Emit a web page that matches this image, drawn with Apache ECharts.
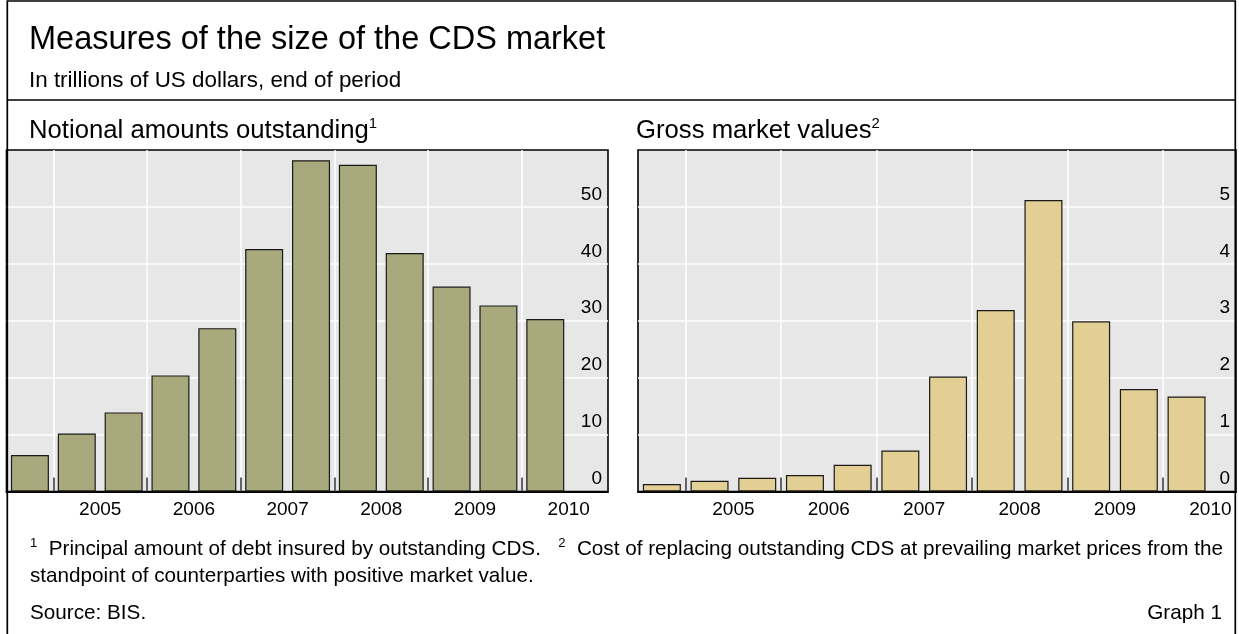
<!DOCTYPE html>
<html>
<head>
<meta charset="utf-8">
<script src="https://cdn.jsdelivr.net/npm/echarts@6/dist/echarts.min.js"></script>
<style>
html,body{margin:0;padding:0;background:#fff;}
#c{width:1239px;height:634px;}
</style>
</head>
<body>
<div id="c"></div>
<script>
// ---- data ----
const periods = ['2004H2','2005H1','2005H2','2006H1','2006H2','2007H1','2007H2','2008H1','2008H2','2009H1','2009H2','2010H1'];
const notional = [6.4, 10.2, 13.9, 20.4, 28.7, 42.6, 58.2, 57.4, 41.9, 36.0, 32.7, 30.3];
const grossValue = [0.13, 0.19, 0.24, 0.29, 0.47, 0.72, 2.02, 3.19, 5.12, 2.99, 1.80, 1.67];
const yearLabels = ['2005', '2006', '2007', '2008', '2009', '2010'];

const FONT = '"Liberation Sans", Arial, Helvetica, sans-serif';
const chart = echarts.init(document.getElementById('c'), null, {renderer: 'canvas'});

// layout (pixels)
const TOP = 150, BOTTOM_Y = 491.5;
const L = {left: 6.5, right: 608, slot: 46.85};
const R = {left: 638, right: 1236, slot: 47.7};
const spanL = (L.right - L.left) / L.slot;
const spanR = (R.right - R.left) / R.slot;

function gridsFor(p) {
  return [
    {left: p.left, top: TOP, width: p.right - p.left, height: BOTTOM_Y - TOP,
     show: true, backgroundColor: '#e7e7e7', borderColor: '#000', borderWidth: 1.6, outerBoundsMode: 'none'},
    {left: p.left + p.slot, top: TOP, width: p.right - p.left - p.slot, height: BOTTOM_Y - TOP,
     show: false, outerBoundsMode: 'none'}
  ];
}
const yearFmt = v => {
  const k = Math.round(v);
  if (Math.abs(v - k) > 1e-6 || k < 2 || k % 2 !== 0) return '';
  return yearLabels[k / 2 - 1] || '';
};
function xAxesFor(gi, span) {
  return [
    {gridIndex: gi, type: 'value', min: 0, max: span, interval: 2,
     axisLine: {show: true, onZero: false, lineStyle: {color: '#000', width: 2}},
     axisTick: {show: false}, splitLine: {show: false},
     axisLabel: {show: true, formatter: yearFmt, color: '#000', fontSize: 19, fontFamily: FONT, margin: 9,
                 showMinLabel: true, showMaxLabel: true, hideOverlap: false}},
    {gridIndex: gi + 1, type: 'value', min: 1, max: span, interval: 2,
     axisLine: {show: false}, axisLabel: {show: false},
     axisTick: {show: true, inside: true, length: 14, lineStyle: {color: '#333', width: 1.5}},
     splitLine: {show: true, showMaxLine: false, lineStyle: {color: '#fff', width: 1.5}}}
  ];
}
function yAxesFor(gi, max, interval) {
  return [
    {gridIndex: gi, type: 'value', min: 0, max: max, interval: interval, position: 'right',
     axisLine: {show: false}, axisTick: {show: false},
     splitLine: {show: true, showMinLine: false, showMaxLine: false, lineStyle: {color: '#fff', width: 1.5}},
     axisLabel: {inside: true, margin: 6, color: '#000', fontSize: 19, fontFamily: FONT,
                 verticalAlign: 'bottom', padding: [0, 0, 3, 0], showMaxLabel: false, showMinLabel: true}},
    {gridIndex: gi + 1, type: 'value', min: 0, max: max, show: false}
  ];
}
const supRich = (size, supSize) => ({
  t: {fontSize: size, fontFamily: FONT, lineHeight: size + 4, color: '#000'},
  s: {fontSize: supSize, fontFamily: FONT, verticalAlign: 'top', lineHeight: supSize + 2, color: '#000'}
});

const option = {
  animation: false,
  backgroundColor: '#fff',
  grid: [...gridsFor(L), ...gridsFor(R)],
  xAxis: [...xAxesFor(0, spanL), ...xAxesFor(2, spanR)],
  yAxis: [...yAxesFor(0, 60, 10), ...yAxesFor(2, 6, 1)],
  series: [
    {type: 'bar', name: 'Notional amounts outstanding', xAxisIndex: 0, yAxisIndex: 0, barWidth: 38, z: 3,
     itemStyle: {color: '#a8a97c', borderColor: '#1a1a1a', borderWidth: 1.2},
     data: notional.map((v, i) => [i + 0.5, v])},
    {type: 'bar', name: 'Gross market values', xAxisIndex: 2, yAxisIndex: 2, barWidth: 38, z: 3,
     itemStyle: {color: '#e3cf93', borderColor: '#1a1a1a', borderWidth: 1.2},
     data: grossValue.map((v, i) => [i + 0.5, v])}
  ],
  graphic: [
    {type: 'rect', silent: true, z: 10, shape: {x: 7.3, y: 1, width: 1228, height: 700},
     style: {fill: 'none', stroke: '#000', lineWidth: 1.7}},
    {type: 'line', silent: true, z: 10, shape: {x1: 7, y1: 100, x2: 1236, y2: 100},
     style: {stroke: '#000', lineWidth: 1.7}},
    {type: 'text', silent: true, z: 10, x: 29, y: 40,
     style: {text: 'Measures of the size of the CDS market', font: '32.5px ' + FONT, fill: '#000',
             verticalAlign: 'middle', textVerticalAlign: 'middle'}},
    {type: 'text', silent: true, z: 10, x: 29, y: 81,
     style: {text: 'In trillions of US dollars, end of period', font: '22.4px ' + FONT, fill: '#000',
             verticalAlign: 'middle', textVerticalAlign: 'middle'}},
    {type: 'text', silent: true, z: 10, x: 29, y: 131,
     style: {text: '{t|Notional amounts outstanding}{s|1}', verticalAlign: 'middle', textVerticalAlign: 'middle', fill: '#000',
             rich: supRich(25.7, 15)}},
    {type: 'text', silent: true, z: 10, x: 636, y: 131,
     style: {text: '{t|Gross market values}{s|2}', verticalAlign: 'middle', textVerticalAlign: 'middle', fill: '#000',
             rich: supRich(25.7, 15)}},
    {type: 'text', silent: true, z: 10, x: 30, y: 549,
     style: {text: '{s|1}{t|  Principal amount of debt insured by outstanding CDS.   }{s|2}{t|  Cost of replacing outstanding CDS at prevailing market prices from the}',
             verticalAlign: 'middle', textVerticalAlign: 'middle', fill: '#000',
             rich: supRich(20.7, 13)}},
    {type: 'text', silent: true, z: 10, x: 30, y: 576,
     style: {text: 'standpoint of counterparties with positive market value.', font: '20.7px ' + FONT, fill: '#000',
             verticalAlign: 'middle', textVerticalAlign: 'middle'}},
    {type: 'text', silent: true, z: 10, x: 30, y: 613,
     style: {text: 'Source: BIS.', font: '20.7px ' + FONT, fill: '#000', verticalAlign: 'middle', textVerticalAlign: 'middle'}},
    {type: 'text', silent: true, z: 10, x: 1222, y: 613,
     style: {text: 'Graph 1', font: '20.7px ' + FONT, fill: '#000', align: 'right', textAlign: 'right',
             verticalAlign: 'middle', textVerticalAlign: 'middle'}}
  ]
};
chart.setOption(option);
</script>
</body>
</html>
